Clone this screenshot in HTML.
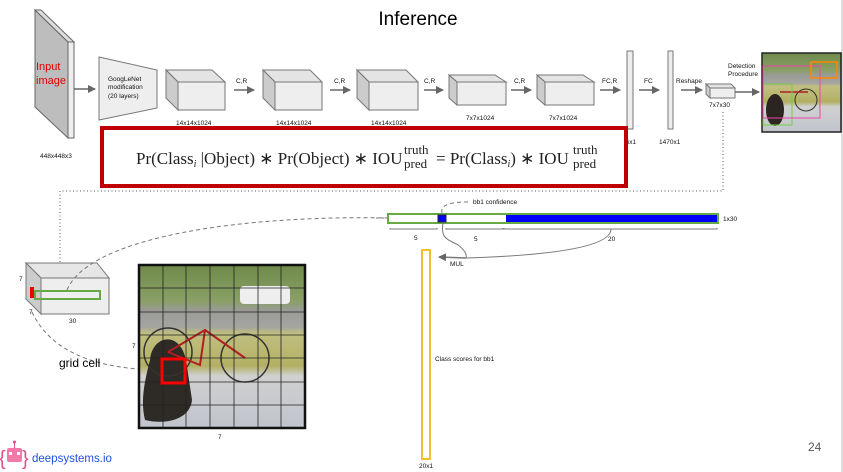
<!DOCTYPE html>
<html><head><meta charset="utf-8"><style>
html,body{margin:0;padding:0;background:#fff;}
svg{display:block;font-family:"Liberation Sans",sans-serif;}
.s{font-size:6.5px;fill:#111;}
</style></head><body>
<svg width="843" height="472" viewBox="0 0 843 472" xmlns="http://www.w3.org/2000/svg">
<defs>
<marker id="ar" markerWidth="8" markerHeight="8" refX="7" refY="4" orient="auto" markerUnits="userSpaceOnUse"><path d="M0,0 L8,4 L0,8 z" fill="#666"/></marker>
<linearGradient id="ph" x1="0" y1="0" x2="0" y2="1">
<stop offset="0" stop-color="#6f8a4a"/><stop offset="0.22" stop-color="#8aa066"/><stop offset="0.28" stop-color="#9a9a96"/><stop offset="0.38" stop-color="#a4a4a0"/><stop offset="0.42" stop-color="#c0bf80"/><stop offset="0.62" stop-color="#b3b064"/><stop offset="0.68" stop-color="#d0d0d0"/><stop offset="1" stop-color="#c0c4cc"/>
</linearGradient>
</defs>
<line x1="842" y1="0" x2="842" y2="472" stroke="#bbb"/>
<text x="418" y="25" font-size="19" text-anchor="middle" fill="#000">Inference</text>

<polygon points="35,10 68,42 68,138 35,107" fill="#bdbdbd" stroke="#666"/>
<polygon points="35,10 41,10 74,42 68,42" fill="#ddd" stroke="#666"/>
<rect x="68" y="42" width="6" height="96" fill="#eee" stroke="#666"/>
<text x="36" y="70" font-size="11" fill="#e00000">Input</text>
<text x="36" y="84" font-size="11" fill="#e00000">image</text>
<text x="40" y="158" class="s">448x448x3</text>
<line x1="74" y1="89" x2="95" y2="89" stroke="#666" stroke-width="1.5" marker-end="url(#ar)"/>

<polygon points="99,57 157,70 157,108 99,120" fill="#eee" stroke="#777"/>
<text x="108" y="81" class="s">GoogLeNet</text>
<text x="108" y="89" class="s">modification</text>
<text x="108" y="98" class="s">(20 layers)</text>

<g stroke="#777" fill="#eee">
<polygon points="166,70 212,70 225,82 178,82" fill="#e4e4e4"/><polygon points="166,70 178,82 178,110 166,98" fill="#ccc"/><rect x="178" y="82" width="47" height="28"/>
<polygon points="263,70 310,70 322,82 275,82" fill="#e4e4e4"/><polygon points="263,70 275,82 275,110 263,98" fill="#ccc"/><rect x="275" y="82" width="47" height="28"/>
<polygon points="357,70 406,70 418,82 369,82" fill="#e4e4e4"/><polygon points="357,70 369,82 369,110 357,98" fill="#ccc"/><rect x="369" y="82" width="49" height="28"/>
<polygon points="449,75 495,75 506,82 457,82" fill="#e4e4e4"/><polygon points="449,75 457,82 457,105 449,98" fill="#ccc"/><rect x="457" y="82" width="49" height="23"/>
<polygon points="537,75 583,75 594,82 545,82" fill="#e4e4e4"/><polygon points="537,75 545,82 545,105 537,98" fill="#ccc"/><rect x="545" y="82" width="49" height="23"/>
<rect x="627" y="51" width="6" height="78"/>
<rect x="668" y="51" width="5" height="78"/>
<polygon points="706,84 731,84 735,88 710,88" fill="#e4e4e4"/><rect x="710" y="88" width="25" height="10"/><polygon points="706,84 710,88 710,98 706,94" fill="#ccc"/>
</g>
<text x="176" y="125" class="s">14x14x1024</text>
<text x="276" y="125" class="s">14x14x1024</text>
<text x="371" y="125" class="s">14x14x1024</text>
<text x="466" y="120" class="s">7x7x1024</text>
<text x="549" y="120" class="s">7x7x1024</text>
<text x="622" y="144" class="s">96x1</text>
<text x="659" y="144" class="s">1470x1</text>
<text x="709" y="107" class="s">7x7x30</text>
<g stroke="#666" stroke-width="1.5" marker-end="url(#ar)">
<line x1="234" y1="90" x2="254" y2="90"/><line x1="330" y1="90" x2="350" y2="90"/><line x1="424" y1="90" x2="443" y2="90"/>
<line x1="511" y1="90" x2="531" y2="90"/><line x1="600" y1="90" x2="620" y2="90"/><line x1="639" y1="90" x2="659" y2="90"/>
<line x1="681" y1="90" x2="702" y2="90"/><line x1="735" y1="92" x2="759" y2="92"/>
</g>
<text x="236" y="83" class="s">C,R</text><text x="334" y="83" class="s">C,R</text><text x="424" y="83" class="s">C,R</text>
<text x="514" y="83" class="s">C,R</text><text x="602" y="83" class="s">FC,R</text><text x="644" y="83" class="s">FC</text><text x="676" y="83" class="s">Reshape</text>
<text x="728" y="68" class="s">Detection</text><text x="728" y="76" class="s">Procedure</text>

<rect x="762" y="53" width="79" height="79" fill="url(#ph)" stroke="#222" stroke-width="1.5"/>
<ellipse cx="775" cy="110" rx="9" ry="16" fill="#2a2520"/>
<circle cx="806" cy="100" r="11" fill="none" stroke="#333" stroke-width="1"/>
<line x1="780" y1="92" x2="808" y2="92" stroke="#b02020" stroke-width="1.5"/>
<rect x="763" y="84" width="29" height="41" fill="none" stroke="#7c4" stroke-width="1"/>
<rect x="763" y="66" width="57" height="52" fill="none" stroke="#e4a" stroke-width="1"/>
<rect x="811" y="62" width="26" height="16" fill="none" stroke="#f80" stroke-width="1.5"/>

<rect x="102" y="128" width="524" height="58" fill="#fff" stroke="#c00000" stroke-width="4"/>
<text x="136" y="164" font-family="'Liberation Serif',serif" font-size="17" fill="#222">Pr(Class<tspan font-size="10" dy="3" font-style="italic">i</tspan><tspan dy="-3"> |Object) ∗ Pr(Object) ∗ IOU</tspan></text>
<text x="404" y="154" font-family="'Liberation Serif',serif" font-size="13" fill="#222">truth</text>
<text x="404" y="168" font-family="'Liberation Serif',serif" font-size="13" fill="#222">pred</text>
<text x="436" y="164" font-family="'Liberation Serif',serif" font-size="17" fill="#222">= Pr(Class<tspan font-size="10" dy="3" font-style="italic">i</tspan><tspan dy="-3">) ∗ IOU</tspan></text>
<text x="573" y="154" font-family="'Liberation Serif',serif" font-size="13" fill="#222">truth</text>
<text x="573" y="168" font-family="'Liberation Serif',serif" font-size="13" fill="#222">pred</text>

<path d="M60,262 L60,191 L723,191 L723,110" fill="none" stroke="#555" stroke-dasharray="1,2.5"/>

<polygon points="26,263 97,263 109,278 41,278" fill="#e6e6e6" stroke="#777"/>
<polygon points="26,263 41,278 41,314 26,299" fill="#ccc" stroke="#777"/>
<rect x="41" y="278" width="68" height="36" fill="#eee" stroke="#777"/>
<rect x="30" y="287" width="4" height="11" fill="#e00"/>
<rect x="35" y="291" width="65" height="8" fill="none" stroke="#6a4" stroke-width="2"/>
<text x="19" y="281" class="s">7</text><text x="29" y="314" class="s">7</text><text x="69" y="323" class="s">30</text>
<path d="M67,290 C90,235 250,215 388,218" fill="none" stroke="#777" stroke-dasharray="4,3"/>
<path d="M32,312 C50,350 90,365 138,369" fill="none" stroke="#777" stroke-dasharray="4,3"/>
<text x="59" y="367" font-size="12" fill="#000">grid cell</text>

<rect x="139" y="265" width="166" height="163" fill="url(#ph)"/>
<path d="M150,360 C152,335 180,330 186,360 L192,400 C190,420 165,425 145,420 C140,400 145,380 150,360 Z" fill="#2e2a26"/>
<circle cx="168" cy="352" r="24" fill="none" stroke="#333" stroke-width="1.5"/>
<circle cx="245" cy="358" r="24" fill="none" stroke="#333" stroke-width="1.5"/>
<path d="M168,352 L205,330 L245,358 M205,330 L200,365 L168,352" fill="none" stroke="#b02020" stroke-width="2"/>
<rect x="240" y="286" width="50" height="18" rx="4" fill="#eee"/>
<g stroke="#222" stroke-width="0.8">
<line x1="163" y1="265" x2="163" y2="428"/><line x1="186" y1="265" x2="186" y2="428"/><line x1="210" y1="265" x2="210" y2="428"/><line x1="234" y1="265" x2="234" y2="428"/><line x1="258" y1="265" x2="258" y2="428"/><line x1="281" y1="265" x2="281" y2="428"/>
<line x1="139" y1="288" x2="305" y2="288"/><line x1="139" y1="312" x2="305" y2="312"/><line x1="139" y1="335" x2="305" y2="335"/><line x1="139" y1="358" x2="305" y2="358"/><line x1="139" y1="382" x2="305" y2="382"/><line x1="139" y1="405" x2="305" y2="405"/>
</g>
<rect x="139" y="265" width="166" height="163" fill="none" stroke="#111" stroke-width="2.5"/>
<rect x="162" y="359" width="23" height="24" fill="none" stroke="#f00" stroke-width="3"/>
<text x="132" y="348" class="s">7</text><text x="218" y="439" class="s">7</text>

<line x1="376" y1="218" x2="386" y2="218" stroke="#777" stroke-dasharray="3,2"/>
<rect x="388" y="214" width="330" height="9" fill="#fff" stroke="#6a4" stroke-width="2"/>
<rect x="438" y="215" width="8" height="7" fill="#00f" stroke="#224"/>
<rect x="506" y="215" width="211" height="7" fill="#00f"/>
<text x="723" y="221" class="s">1x30</text>
<g fill="none" stroke="#777">
<path d="M390,228 L390,229 L437,229 L437,228"/><path d="M446,228 L446,229 L503,229 L503,228"/><path d="M504,228 L504,229 L717,229 L717,228"/>
<path d="M442,213 C440,205 450,202 468,202" stroke-dasharray="4,3"/>
<path d="M443,223 C440,240 450,240 458,245 C465,250 467,255 466,258"/>
<path d="M611,229 C611,250 530,256 466,258"/>
</g>
<line x1="466" y1="258" x2="439" y2="257" stroke="#777" stroke-width="1.5" marker-end="url(#ar)"/>
<text x="473" y="204" class="s">bb1 confidence</text>
<text x="414" y="240" class="s">5</text><text x="474" y="241" class="s">5</text><text x="608" y="241" class="s">20</text>
<text x="450" y="266" class="s">MUL</text>
<rect x="422" y="250" width="8" height="209" fill="#fff" stroke="#f0c030" stroke-width="2"/>
<text x="419" y="468" class="s">20x1</text>
<text x="435" y="361" class="s">Class scores for bb1</text>

<g>
<text x="-1" y="465" font-size="20" fill="#e0508a">{</text>
<rect x="7" y="448" width="15" height="14" rx="2" fill="#f07aa8"/>
<line x1="14.5" y1="443" x2="14.5" y2="448" stroke="#e0508a"/><circle cx="14.5" cy="442" r="1.5" fill="#e0508a"/>
<rect x="9" y="452" width="3" height="3" fill="#fff"/><rect x="17" y="452" width="3" height="3" fill="#fff"/>
<text x="22" y="465" font-size="20" fill="#e0508a">}</text>
<text x="32" y="462" font-size="11.5" fill="#2050e0">deepsystems.io</text>
</g>
<text x="808" y="451" font-size="12" fill="#555">24</text>
</svg>
</body></html>
